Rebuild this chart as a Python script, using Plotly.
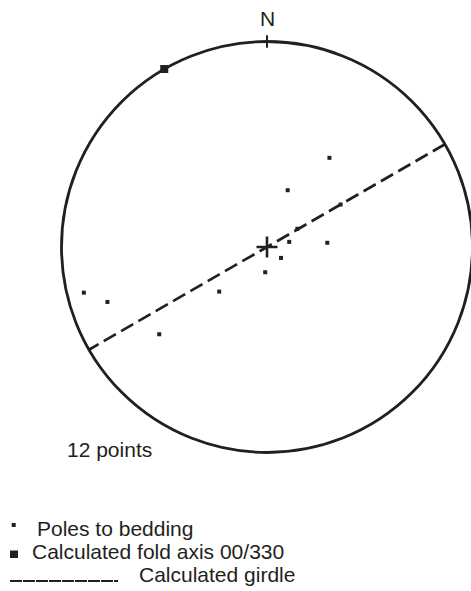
import numpy as np
import plotly.graph_objects as go

# Poles to bedding (trend / plunge, degrees)
pole_trend = [35, 20, 60, 59, 77, 86, 128, 184, 227, 256, 251, 231]
pole_plunge = [46, 66, 56, 76, 81, 66, 83, 80, 64, 9, 19, 33]

# Calculated fold axis (plunge / trend)
axis_plunge = 0
axis_trend = 330

# Legend entries
legend_labels = ["Poles to bedding", "Calculated fold axis 00/330", "Calculated girdle"]
count_label = "12 points"

INK = "#231f20"
FONT = "Liberation Sans, Arial, Helvetica, sans-serif"
W, H = 471, 591
CX, CY, R = 267.0, 247.0, 205.5  # primitive circle centre / radius in pixels


def project(trend, plunge):
    """Lambert equal-area (Schmidt) projection, lower hemisphere, unit circle."""
    t = np.radians(np.asarray(trend, dtype=float))
    p = np.radians(np.asarray(plunge, dtype=float))
    r = np.sqrt(2.0) * np.sin((np.pi / 2 - p) / 2)
    return r * np.sin(t), r * np.cos(t)


def girdle_points(normal_trend, normal_plunge, n=181):
    """Great circle whose pole is (normal_trend, normal_plunge)."""
    t = np.radians(normal_trend)
    p = np.radians(normal_plunge)
    nvec = np.array([np.cos(p) * np.sin(t), np.cos(p) * np.cos(t), -np.sin(p)])
    a = np.cross(nvec, [0, 0, 1.0])
    if np.linalg.norm(a) < 1e-9:
        a = np.array([1.0, 0, 0])
    a /= np.linalg.norm(a)
    b = np.cross(nvec, a)
    ang = np.linspace(0, np.pi, n)
    v = np.outer(np.cos(ang), a) + np.outer(np.sin(ang), b)
    v[v[:, 2] > 0] *= -1  # keep lower hemisphere
    tr = np.degrees(np.arctan2(v[:, 0], v[:, 1])) % 360
    pl = np.degrees(np.arcsin(np.clip(-v[:, 2], -1, 1)))
    return project(tr, pl)


px, py = project(pole_trend, pole_plunge)
ax_x, ax_y = project(axis_trend, axis_plunge)
gx, gy = girdle_points(axis_trend, axis_plunge)

fig = go.Figure()

# Girdle (great circle normal to the fold axis)
fig.add_trace(go.Scatter(
    x=gx, y=gy, mode="lines",
    line=dict(color=INK, width=2.6, dash="14px,6px"),
    hoverinfo="skip", showlegend=False,
))

# Poles to bedding
fig.add_trace(go.Scatter(
    x=px, y=py, mode="markers",
    marker=dict(symbol="square", size=4, color=INK, line=dict(width=0)),
    showlegend=False,
))

# Fold axis
fig.add_trace(go.Scatter(
    x=[ax_x], y=[ax_y], mode="markers",
    marker=dict(symbol="square", size=8, color=INK, line=dict(width=0)),
    showlegend=False,
))

# Centre cross
fig.add_trace(go.Scatter(
    x=[0], y=[0], mode="markers",
    marker=dict(symbol="cross-thin", size=15, line=dict(color=INK, width=2.6)),
    hoverinfo="skip", showlegend=False,
))

shapes = [
    # primitive circle
    dict(type="circle", xref="x", yref="y", x0=-1, y0=-1, x1=1, y1=1,
         line=dict(color=INK, width=2.8)),
    # north tick
    dict(type="line", xref="x", yref="y", x0=0, x1=0, y0=0.97, y1=1.03,
         line=dict(color=INK, width=2)),
]


def pxp(x):
    return x / W


def pyp(y):
    return 1 - y / H


# legend symbols (paper coordinates)
shapes += [
    dict(type="rect", xref="paper", yref="paper",
         x0=pxp(11.7), x1=pxp(15.7), y0=pyp(527), y1=pyp(523),
         fillcolor=INK, line=dict(width=0)),
    dict(type="rect", xref="paper", yref="paper",
         x0=pxp(10), x1=pxp(18), y0=pyp(558), y1=pyp(550.5),
         fillcolor=INK, line=dict(width=0)),
    dict(type="line", xref="paper", yref="paper",
         x0=pxp(10), x1=pxp(118), y0=pyp(581), y1=pyp(581),
         line=dict(color=INK, width=1.8, dash="12px,1px")),
]

annotations = [
    dict(text="N", xref="x", yref="paper", x=0, y=pyp(18.5),
         xanchor="center", yanchor="middle", showarrow=False,
         font=dict(size=21, color=INK, family=FONT)),
    dict(text=count_label, xref="paper", yref="paper", x=pxp(64.5), y=pyp(450),
         xanchor="left", yanchor="middle", showarrow=False,
         font=dict(size=21, color=INK, family=FONT)),
]
for label, lx, ly in zip(legend_labels, [34.5, 29.5, 136.5], [528, 551, 574]):
    annotations.append(dict(
        text=label, xref="paper", yref="paper", x=pxp(lx), y=pyp(ly),
        xanchor="left", yanchor="middle", showarrow=False,
        font=dict(size=21, color=INK, family=FONT)))

fig.update_layout(
    width=W, height=H,
    margin=dict(l=0, r=0, t=0, b=0),
    paper_bgcolor="white", plot_bgcolor="white",
    xaxis=dict(range=[-CX / R, (W - CX) / R], visible=False, fixedrange=True),
    yaxis=dict(range=[(CY - H) / R, CY / R], visible=False, fixedrange=True),
    shapes=shapes, annotations=annotations,
    showlegend=False,
)

fig.write_html("out.html")
